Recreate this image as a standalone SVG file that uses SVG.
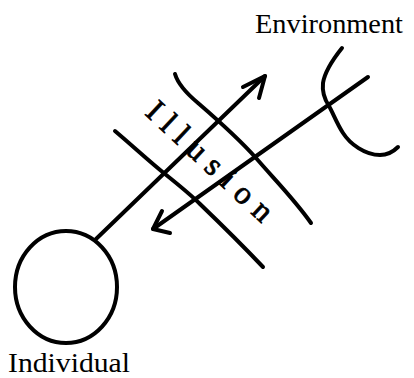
<svg xmlns="http://www.w3.org/2000/svg" width="414" height="378" viewBox="0 0 414 378">
<style>
.s{fill:none;stroke:#000;stroke-width:4;stroke-linecap:round;stroke-linejoin:round}
.lbl{font-family:"Liberation Serif","Times New Roman",serif;font-size:28px;fill:#000}
.ill{font-family:"Liberation Serif","Times New Roman",serif;fill:#000;stroke:#000;stroke-width:0.8}
</style>
<rect width="414" height="378" fill="#fff"/>
<g id="environment">
<path class="s" d="M342,48 C334,58 325,70 323,83 C322,92 325,100 329,106 C333,113 337,124 343,133 C350,144 365,155 380,155 C388,155 393,152 398,147"/>
<text class="lbl" x="255" y="33" textLength="148" lengthAdjust="spacingAndGlyphs">Environment</text>
</g>
<g id="individual">
<ellipse class="s" cx="66" cy="287" rx="51" ry="56"/>
<text class="lbl" x="8" y="372" textLength="122" lengthAdjust="spacingAndGlyphs">Individual</text>
</g>
<g id="illusion">
<path class="s" d="M175,74 C178,84 186,93 198,103 C220,122 240,140 256,158 C275,180 295,200 311,223"/>
<path class="s" d="M115,131 C135,148 150,162 165,174 C180,186 190,194 200,204 C225,228 245,248 263,267"/>
<text class="ill" font-size="32" transform="translate(144,114) rotate(43)" letter-spacing="9">Illusion</text>
</g>
<g id="connectors">
<path class="s" d="M96,239 L265,76"/>
<path class="s" d="M243,87 L265,76 L259,98"/>
<path class="s" d="M368,77 L153,229"/>
<path class="s" d="M162,211 L153,229 L170,233"/>
</g>
</svg>
